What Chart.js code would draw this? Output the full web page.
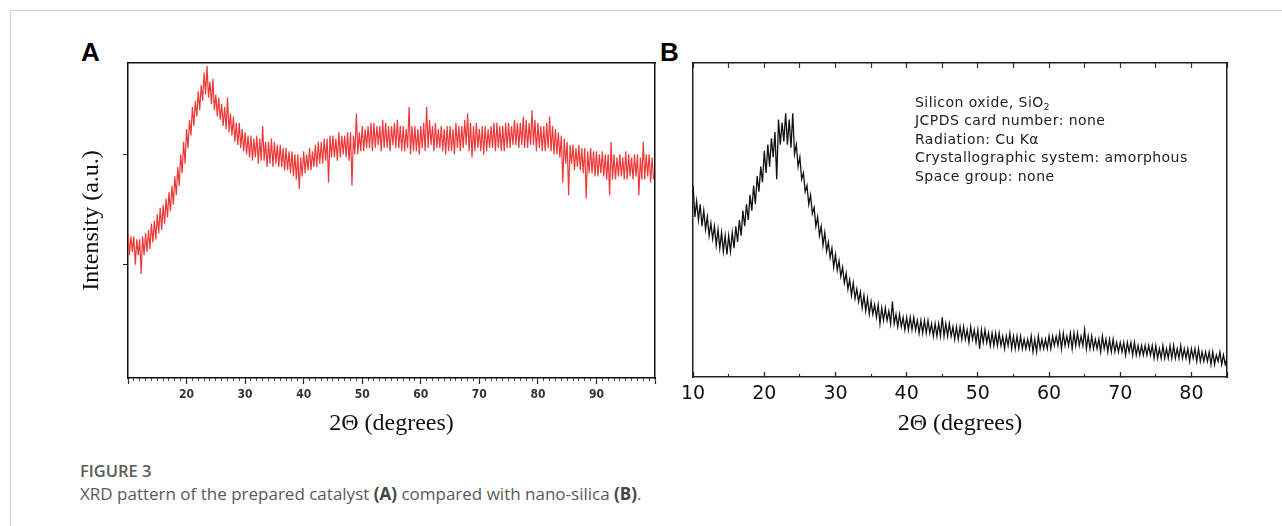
<!DOCTYPE html>
<html>
<head>
<meta charset="utf-8">
<script src="https://cdn.jsdelivr.net/npm/chart.js@4.4.1/dist/chart.umd.min.js"></script>
<style>
  body { margin: 0; background: #fff; width: 1282px; height: 526px; overflow: hidden; position: relative; font-family: "Liberation Sans", Arial, sans-serif; }
  .frame { position: absolute; left: 10px; top: 10px; width: 1272px; height: 516px; border-top: 1px solid #cfcfcf; border-left: 1px solid #cfcfcf; }
  .panel { position: absolute; font: bold 26px "Liberation Sans", Arial, sans-serif; color: #000; }
  #wrapA { position: absolute; left: 0; top: 0; width: 670px; height: 450px; }
  #wrapB { position: absolute; left: 670px; top: 0; width: 612px; height: 450px; }
  .note { position: absolute; left: 915px; top: 93px; font: 14px "DejaVu Sans", sans-serif; letter-spacing: 0.45px; line-height: 18.4px; color: #222; }
  .note sub { font-size: 9px; vertical-align: -3px; line-height: 0; }
  .figno { position: absolute; left: 80px; top: 459px; font: 600 16.5px "Open Sans", sans-serif; color: #5a5a5a; }
  .caption { position: absolute; left: 80px; top: 482px; font: 17px "Open Sans", sans-serif; color: #5a5a5a; }
  .caption b { font-weight: 700; color: #444; }
</style>
</head>
<body>
<div class="frame"></div>
<div class="panel" style="left:81px; top:37px;">A</div>
<div class="panel" style="left:660px; top:37px;">B</div>
<div id="wrapA"><canvas id="chartA" width="670" height="450"></canvas></div>
<div id="wrapB"><canvas id="chartB" width="612" height="450"></canvas></div>
<div class="note">
  Silicon oxide, SiO<sub>2</sub><br>
  JCPDS card number: none<br>
  Radiation: Cu Kα<br>
  Crystallographic system: amorphous<br>
  Space group: none
</div>
<div class="figno">FIGURE 3</div>
<div class="caption">XRD pattern of the prepared catalyst <b>(A)</b> compared with nano-silica <b>(B)</b>.</div>
<script>
// panel A: prepared catalyst, 2theta from 10 every 0.25 deg (intensity a.u., 0..100 of plot height)
// one row = 5 degrees
const aStart = 10;
const aStep = 0.25;
const aIntensity = [
  46, 39, 45, 40, 45, 36, 44, 39, 44, 33, 45, 39, 46, 40, 47, 41, 49, 43, 50, 44,
  52, 46, 54, 47, 55, 49, 57, 51, 59, 53, 61, 55, 64, 58, 67, 61, 71, 65, 75, 68,
  79, 73, 82, 77, 86, 80, 88, 83, 91, 85, 93, 88, 97, 90, 99, 89, 94, 87, 95, 85,
  90, 83, 89, 82, 87, 80, 86, 79, 89, 78, 84, 77, 83, 75, 81, 74, 81, 73, 79, 72,
  78, 71, 77, 70, 77, 69, 76, 70, 77, 68, 76, 69, 80, 69, 75, 67, 75, 68, 76, 67,
  75, 68, 74, 67, 74, 67, 73, 66, 73, 66, 72, 65, 72, 64, 71, 63, 71, 60, 70, 64,
  72, 65, 71, 66, 73, 66, 72, 67, 74, 67, 75, 68, 75, 68, 76, 69, 76, 62, 77, 70,
  77, 70, 76, 69, 78, 70, 77, 71, 77, 70, 78, 69, 78, 61, 77, 71, 84, 71, 78, 72,
  80, 72, 79, 73, 80, 73, 81, 72, 81, 73, 80, 74, 80, 72, 82, 73, 81, 73, 80, 72,
  80, 74, 81, 73, 82, 73, 80, 72, 80, 72, 79, 73, 86, 71, 80, 72, 80, 72, 79, 71,
  80, 73, 81, 72, 86, 73, 82, 74, 80, 72, 81, 73, 79, 73, 80, 72, 79, 71, 80, 72,
  80, 72, 79, 71, 81, 73, 80, 72, 80, 73, 82, 74, 84, 72, 81, 70, 80, 72, 81, 73,
  79, 72, 80, 71, 80, 72, 79, 73, 80, 73, 81, 72, 81, 73, 80, 72, 80, 72, 81, 73,
  81, 73, 80, 74, 82, 74, 81, 73, 81, 74, 83, 73, 82, 73, 81, 74, 85, 74, 82, 72,
  81, 73, 80, 72, 80, 72, 81, 73, 83, 72, 80, 71, 79, 71, 78, 70, 77, 62, 76, 68,
  75, 58, 74, 68, 74, 66, 73, 67, 74, 66, 73, 65, 73, 57, 72, 65, 73, 65, 72, 64,
  72, 64, 71, 65, 72, 64, 71, 63, 71, 58, 75, 63, 71, 63, 70, 64, 71, 64, 70, 63,
  72, 63, 71, 64, 70, 63, 71, 64, 71, 58, 70, 63, 75, 63, 71, 64, 71, 62, 70, 63
];
const aXMin = 10, aXMax = 100;
const aYTicks = [36, 71];

// panel B: nano-silica, 2theta from 10 every 0.25 deg up to 85
const bStart = 10;
const bStep = 0.25;
const bIntensity = [
  61, 51, 56, 50, 55, 48, 53, 47, 51, 45, 49, 44, 48, 42, 47, 41, 46, 40, 45, 39,
  45, 40, 46, 41, 48, 43, 50, 45, 53, 48, 55, 50, 58, 53, 61, 55, 64, 59, 67, 62,
  72, 65, 74, 67, 76, 70, 78, 63, 82, 74, 81, 75, 84, 74, 82, 73, 84, 71, 74, 67,
  70, 63, 65, 59, 61, 55, 58, 52, 54, 48, 51, 45, 48, 42, 46, 40, 43, 38, 41, 35,
  39, 34, 37, 32, 35, 30, 33, 28, 31, 26, 30, 25, 28, 24, 27, 22, 26, 21, 25, 20,
  24, 20, 23, 19, 23, 17, 22, 18, 22, 18, 21, 17, 24, 17, 20, 16, 20, 16, 19, 15,
  19, 15, 19, 15, 19, 15, 18, 14, 18, 14, 18, 14, 18, 14, 17, 13, 17, 13, 17, 13,
  19, 13, 17, 13, 17, 13, 16, 12, 16, 12, 16, 12, 16, 12, 15, 11, 16, 12, 15, 11,
  15, 9, 15, 11, 15, 11, 14, 10, 14, 10, 14, 10, 14, 10, 13, 9, 13, 10, 14, 9,
  13, 9, 13, 9, 13, 9, 12, 9, 12, 9, 13, 8, 12, 8, 13, 9, 12, 9, 12, 9,
  13, 9, 13, 10, 13, 10, 14, 9, 14, 10, 13, 10, 14, 9, 14, 10, 14, 10, 13, 10,
  15, 9, 13, 9, 13, 9, 12, 9, 12, 8, 13, 9, 12, 8, 12, 8, 12, 8, 11, 8,
  11, 8, 11, 7, 11, 8, 11, 7, 11, 7, 10, 7, 10, 7, 10, 7, 10, 7, 10, 6,
  10, 6, 9, 6, 10, 6, 9, 6, 10, 6, 10, 6, 9, 6, 10, 6, 9, 6, 9, 5,
  9, 6, 9, 5, 9, 5, 8, 5, 8, 5, 8, 4, 8, 4, 7, 5, 8, 4, 7, 4,
  6
];
const bXMin = 10, bXMax = 85;

const xTitle = '2\u0398 (degrees)';
const yTitle = 'Intensity (a.u.)';

function toPoints(start, step, values) {
  return values.map((v, i) => ({ x: start + i * step, y: v }));
}

const serif = "'Liberation Serif', 'Times New Roman', serif";

new Chart(document.getElementById('chartA'), {
    type: 'line',
    data: {
        datasets: [{
            data: toPoints(aStart, aStep, aIntensity),
            borderColor: '#ee3838',
            borderWidth: 1.2,
            pointRadius: 0,
            tension: 0
        }]
    },
    options: {
        responsive: false,
        animation: false,
        layout: { padding: { left: 0, top: 63, right: 15, bottom: 0 } },
        plugins: { legend: { display: false }, tooltip: { enabled: false } },
        scales: {
            x: {
                type: 'linear', position: 'bottom', weight: 1, min: aXMin, max: aXMax,
                ticks: {
                    stepSize: 10, autoSkip: false, maxRotation: 0, padding: 4,
                    color: '#333', font: { family: "'Liberation Sans Narrow', 'DejaVu Sans Condensed', sans-serif", size: 12, weight: 'bold' },
                    callback: v => (v > aXMin && v < aXMax) ? v : ''
                },
                grid: { drawOnChartArea: false, tickLength: 6, tickColor: '#222', tickWidth: 1.2 },
                border: { color: '#111', width: 1.5 },
                title: { display: true, text: xTitle, color: '#111', font: { family: serif, size: 24 }, padding: { top: 0, bottom: 12 } },
                afterFit: s => { s.height = 72; }
            },
            xMinor: {
                type: 'linear', position: 'bottom', weight: 0, min: aXMin, max: aXMax,
                ticks: { display: false, stepSize: 1 },
                grid: { drawOnChartArea: false, tickLength: 3, tickColor: '#444' },
                border: { display: false },
                afterFit: s => { s.height = 0; }
            },
            xTop: {
                type: 'linear', position: 'top', min: aXMin, max: aXMax,
                ticks: { display: false },
                grid: { display: false },
                border: { color: '#111', width: 1.5 },
                afterFit: s => { s.height = 0; }
            },
            y: {
                type: 'linear', position: 'left', min: 0, max: 100,
                afterBuildTicks: s => { s.ticks = aYTicks.map(v => ({ value: v })); },
                ticks: { display: false },
                grid: { drawOnChartArea: false, tickLength: 5, tickColor: '#222' },
                border: { color: '#111', width: 1.5 },
                title: { display: true, text: yTitle, color: '#111', font: { family: serif, size: 24 }, padding: { top: 77, bottom: 0 } },
                afterFit: s => { s.width = 128; }
            },
            yRight: {
                type: 'linear', position: 'right', min: 0, max: 100,
                ticks: { display: false },
                grid: { display: false },
                border: { color: '#111', width: 1.5 },
                afterFit: s => { s.width = 0; }
            }
        }
    }
});

new Chart(document.getElementById('chartB'), {
    type: 'line',
    data: {
        datasets: [{
            data: toPoints(bStart, bStep, bIntensity),
            borderColor: '#111',
            borderWidth: 1.3,
            pointRadius: 0,
            tension: 0
        }]
    },
    options: {
        responsive: false,
        animation: false,
        layout: { padding: { left: 0, top: 63, right: 55, bottom: 0 } },
        plugins: { legend: { display: false }, tooltip: { enabled: false } },
        scales: {
            x: {
                type: 'linear', position: 'bottom', weight: 1, min: bXMin, max: bXMax,
                ticks: {
                    stepSize: 10, autoSkip: false, maxRotation: 0, padding: 11,
                    color: '#111', font: { family: "'DejaVu Sans', sans-serif", size: 19 },
                    callback: v => v % 10 === 0 ? v : ''
                },
                grid: { drawOnChartArea: false, tickLength: -5, tickColor: '#222', tickWidth: 1.2 },
                border: { color: '#222', width: 1.5 },
                title: { display: true, text: xTitle, color: '#111', font: { family: serif, size: 24 }, padding: { top: 0, bottom: 12 } },
                afterFit: s => { s.height = 73; }
            },
            xMinor: {
                type: 'linear', position: 'bottom', weight: 0, min: bXMin, max: bXMax,
                ticks: { display: false, stepSize: 5 },
                grid: { drawOnChartArea: false, tickLength: -3, tickColor: '#333', tickWidth: 1.2 },
                border: { display: false },
                afterFit: s => { s.height = 0; }
            },
            xTop: {
                type: 'linear', position: 'top', min: bXMin, max: bXMax,
                ticks: { display: false, stepSize: 5 },
                grid: { drawOnChartArea: false, tickLength: -5, tickColor: '#333', tickWidth: 1.2 },
                border: { color: '#222', width: 1.5 },
                afterFit: s => { s.height = 0; }
            },
            y: {
                type: 'linear', position: 'left', min: 0, max: 100,
                ticks: { display: false },
                grid: { display: false },
                border: { color: '#222', width: 1.5 },
                afterFit: s => { s.width = 17; }
            },
            yRight: {
                type: 'linear', position: 'right', min: 0, max: 100,
                ticks: { display: false },
                grid: { display: false },
                border: { color: '#222', width: 1.5 },
                afterFit: s => { s.width = 0; }
            }
        }
    }
});
</script>
</body>
</html>
